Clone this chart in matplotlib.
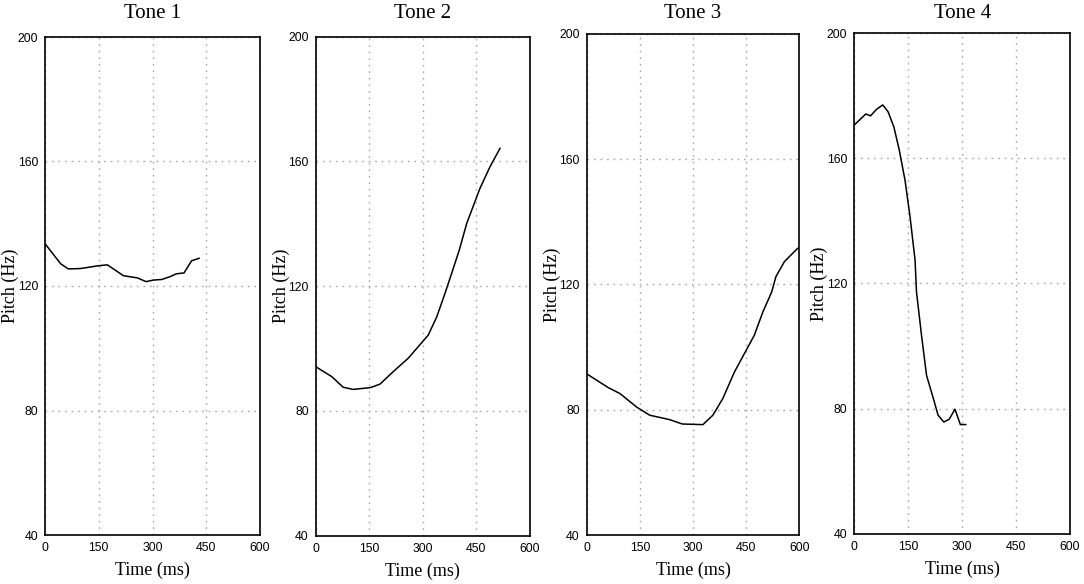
import numpy as np
import matplotlib.pyplot as plt

# pitch contours (time in ms, pitch in Hz)
tone1_t = [0, 44, 65, 98, 149, 174, 219, 258, 282, 302, 326, 349, 366, 388, 409, 430]
tone1_hz = [133.6, 127.1, 125.5, 125.6, 126.5, 126.8, 123.3, 122.6, 121.4, 121.9, 122.1, 123.0, 123.9, 124.2, 128.1, 128.9]

tone2_t = [0, 45, 77, 105, 154, 180, 217, 259, 287, 315, 339, 362, 376, 402, 423, 460, 488, 516]
tone2_hz = [94.2, 91.0, 87.6, 86.9, 87.5, 88.6, 92.6, 96.9, 100.6, 104.3, 110.2, 117.7, 122.5, 131.6, 140.2, 151.4, 158.3, 164.2]

tone3_t = [0, 61, 94, 141, 178, 234, 270, 300, 328, 356, 384, 417, 450, 473, 497, 522, 534, 558, 595]
tone3_hz = [91.5, 87.1, 85.2, 80.9, 78.3, 76.9, 75.5, 75.4, 75.3, 78.3, 83.6, 92.1, 99.0, 103.8, 111.2, 117.6, 122.5, 127.3, 131.5]

tone4_t = [0, 32, 45, 62, 79, 94, 110, 125, 141, 155, 169, 173, 187, 201, 220, 233, 249, 264, 280, 295, 310]
tone4_hz = [170.7, 174.2, 173.6, 175.7, 177.1, 174.9, 170.1, 162.7, 153.1, 141.4, 127.5, 117.3, 103.4, 90.6, 83.2, 77.9, 75.7, 76.6, 79.8, 74.9, 74.9]

titles = ["Tone 1", "Tone 2", "Tone 3", "Tone 4"]
series = [(tone1_t, tone1_hz), (tone2_t, tone2_hz), (tone3_t, tone3_hz), (tone4_t, tone4_hz)]
x_ticks = [0, 150, 300, 450, 600]
y_ticks = [40, 80, 120, 160, 200]

W, H = 1084, 584
# pixel boxes of each panel: left, right, top, bottom
boxes = [
    (45, 260, 37, 535),
    (315.7, 530, 36.7, 535.7),
    (586.7, 799.3, 33.7, 535.3),
    (854.3, 1070, 33.3, 533.7),
]

serif = "Liberation Serif"
sans = "Liberation Sans"

fig = plt.figure(figsize=(W / 100, H / 100), dpi=100)

for (t, hz), title, (l, r, top, b) in zip(series, titles, boxes):
    ax = fig.add_axes([l / W, 1 - b / H, (r - l) / W, (b - top) / H])
    ax.plot(t, hz, color="black", lw=1.1)
    ax.set_xlim(0, 600)
    ax.set_ylim(40, 200)
    ax.set_xticks(x_ticks)
    ax.set_yticks(y_ticks)
    ax.tick_params(length=0, labelsize=8.8, pad=5)
    for lab in ax.get_xticklabels() + ax.get_yticklabels():
        lab.set_fontfamily(sans)
    ax.grid(True, color="#a8a8a8", linestyle=(0, (1.2, 3.5)), lw=1.0)
    for sp in ax.spines.values():
        sp.set_linewidth(1.2)
        sp.set_color("black")
    ax.set_xlabel("Time (ms)", fontfamily=serif, fontsize=13, labelpad=5.5)
    ax.set_ylabel("Pitch (Hz)", fontfamily=serif, fontsize=13)
    ax.yaxis.set_label_coords(-26 / (r - l), 0.5)
    fig.text((l + r) / 2 / W, 1 - 13 / H, title, fontfamily=serif,
             fontsize=15, ha="center", va="center")

fig.savefig("out.png", dpi=100)
